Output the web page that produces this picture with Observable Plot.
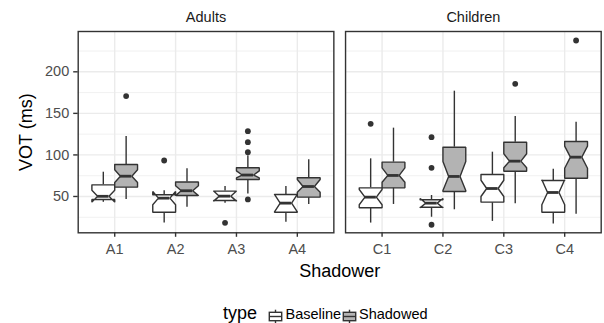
<!DOCTYPE html>
<html>
<head>
<meta charset="utf-8">
<script src="https://cdn.jsdelivr.net/npm/d3@7"></script>
<script src="https://cdn.jsdelivr.net/npm/@observablehq/plot@0.6"></script>
<style>
  html, body { margin: 0; background: #fff; font-family: "Liberation Sans", Arial, sans-serif; overflow: hidden; }
  #wrap { position: relative; width: 604px; height: 323px; overflow: hidden; }
  #legend { position: absolute; left: 0; top: 306px; width: 604px; height: 17px; }
  #legend > * { position: absolute; top: 0; }
  #legend span { line-height: 17px; white-space: nowrap; }
</style>
</head>
<body>
<div id="wrap"><div id="chart"></div><div id="legend"></div></div>
<script>
// ---- data ----
const shadowers = ["A1", "A2", "A3", "A4", "C1", "C2", "C3", "C4"];
const groups = ["Adults", "Adults", "Adults", "Adults", "Children", "Children", "Children", "Children"];
const types = ["Baseline", "Shadowed"];

const baselineLower   = [43, 18, 42, 19, 18, 25, 20, 17];
const baselineQ1      = [46.4, 31, 45.2, 31.1, 36.4, 37.1, 43.2, 31.1];
const baselineMedian  = [50.2, 48, 50.4, 42, 49.2, 42, 59.6, 54.8];
const baselineQ3      = [64, 52, 56.5, 52.4, 60.4, 46, 76.5, 69.2];
const baselineUpper   = [79.2, 57, 62, 62, 95.3, 51.2, 103.3, 82.8];
const baselineNotchLo = [43.2, 40, 44.4, 31.6, 40, 36.5, 50, 40];
const baselineNotchHi = [57.4, 56, 56.6, 52.4, 58.4, 47.5, 69.5, 70.2];

const shadowedLower   = [46.4, 37, 53, 40.4, 40.4, 34, 41.2, 28.7];
const shadowedQ1      = [61.2, 51.2, 70.5, 49.2, 60.4, 56, 80.4, 72];
const shadowedMedian  = [74.4, 56.9, 75.8, 62, 75.3, 74.1, 92.5, 97.3];
const shadowedQ3      = [88.5, 67.4, 84.5, 72.5, 91.3, 109.3, 115.3, 116.2];
const shadowedUpper   = [122.2, 83.3, 99, 94.1, 132.2, 176.7, 146.2, 139.4];
const shadowedNotchLo = [66.8, 51, 72.3, 55.2, 67.2, 57.2, 84.5, 84];
const shadowedNotchHi = [82.1, 62.8, 80.8, 70.5, 84.5, 92, 101.4, 110.5];

const outlierShadower = ["A1", "A2", "A3", "A3", "A3", "A3", "A3", "C1", "C2", "C2", "C2", "C3", "C4"];
const outlierType     = ["Shadowed", "Baseline", "Baseline", "Shadowed", "Shadowed", "Shadowed", "Shadowed", "Baseline", "Baseline", "Baseline", "Baseline", "Shadowed", "Shadowed"];
const outlierValue    = [170.8, 93.3, 18.3, 128.6, 115.3, 103.3, 46.4, 137.4, 121.4, 84.5, 16, 185.6, 237.7];

const yMajorTicks = [50, 100, 150, 200];
const yMinorTicks = [25, 75, 125, 175, 225];
const xTicks = [1, 2, 3, 4];

// ---- styles ----
const fills = {Baseline: "#ffffff", Shadowed: "#b3b3b3"};
const ink = "#333333";
const boxW = 0.375;
const offsets = {Baseline: -boxW / 2, Shadowed: boxW / 2};
const smallFont = 14.5;

// ---- derived tables ----
function makeBoxes(type, lo, q1, med, q3, hi, nlo, nhi) {
  return shadowers.map((s, i) => ({
    shadower: s, group: groups[i], type,
    pos: (i % 4) + 1 + offsets[type],
    lo: lo[i], q1: q1[i], med: med[i], q3: q3[i], hi: hi[i], nlo: nlo[i], nhi: nhi[i]
  }));
}
const boxes = [
  ...makeBoxes("Baseline", baselineLower, baselineQ1, baselineMedian, baselineQ3, baselineUpper, baselineNotchLo, baselineNotchHi),
  ...makeBoxes("Shadowed", shadowedLower, shadowedQ1, shadowedMedian, shadowedQ3, shadowedUpper, shadowedNotchLo, shadowedNotchHi)
];
function outline(b) {
  const xmin = b.pos - boxW / 2, xmax = b.pos + boxW / 2, ind = boxW / 4;
  return [
    [xmin, b.q3], [xmin, b.nhi], [xmin + ind, b.med], [xmin, b.nlo], [xmin, b.q1],
    [xmax, b.q1], [xmax, b.nlo], [xmax - ind, b.med], [xmax, b.nhi], [xmax, b.q3], [xmin, b.q3]
  ].map(([x, y]) => ({x, y, id: b.shadower + b.type, group: b.group, type: b.type}));
}
const outlinePts = boxes.flatMap(outline);
const medians = boxes.map(b => ({...b, x1: b.pos - boxW / 4, x2: b.pos + boxW / 4}));
const outliers = outlierValue.map((v, i) => {
  const k = shadowers.indexOf(outlierShadower[i]);
  return {value: v, group: groups[k], pos: (k % 4) + 1 + offsets[outlierType[i]]};
});
const cats = shadowers.map((s, i) => ({shadower: s, group: groups[i], pos: (i % 4) + 1}));
const titleRow = [{group: "Adults"}];

const chart = Plot.plot({
  width: 604,
  height: 298,
  marginLeft: 77.7,
  marginRight: 3.3,
  marginTop: 31,
  marginBottom: 65.7,
  style: {fontFamily: "'Liberation Sans', Arial, sans-serif", background: "#ffffff"},
  x: {domain: [0.4, 4.6]},
  y: {domain: [6.3, 248.5]},
  fx: {domain: ["Adults", "Children"], paddingInner: 0.0438, paddingOuter: 0, round: false},
  marks: [
    Plot.ruleY(yMinorTicks, {stroke: "#ebebeb", strokeWidth: 0.7}),
    Plot.ruleY(yMajorTicks, {stroke: "#ebebeb", strokeWidth: 1.4}),
    Plot.ruleX(xTicks, {stroke: "#ebebeb", strokeWidth: 1.4}),
    Plot.ruleX(boxes, {fx: "group", x: "pos", y1: "q3", y2: "hi", stroke: ink, strokeWidth: 1.4}),
    Plot.ruleX(boxes, {fx: "group", x: "pos", y1: "q1", y2: "lo", stroke: ink, strokeWidth: 1.4}),
    ...types.map(t => Plot.line(outlinePts.filter(d => d.type === t), {
      fx: "group", x: "x", y: "y", z: "id", fill: fills[t], stroke: ink,
      strokeWidth: 1.4, strokeLinejoin: "miter", curve: "linear"
    })),
    Plot.ruleY(medians, {fx: "group", y: "med", x1: "x1", x2: "x2", stroke: ink, strokeWidth: 2.8}),
    Plot.dot(outliers, {fx: "group", x: "pos", y: "value", r: 2.9, fill: ink, stroke: null}),
    Plot.frame({stroke: ink, strokeWidth: 1.4}),
    Plot.axisY({ticks: yMajorTicks, tickSize: 4.5, tickPadding: 4.5, label: null, fontSize: smallFont, fill: "#4d4d4d", stroke: ink, strokeWidth: 1.4}),
    Plot.axisX({ticks: xTicks, tickSize: 4.5, tickFormat: () => "", label: null, stroke: ink, strokeWidth: 1.4}),
    Plot.text(cats, {fx: "group", x: "pos", text: "shadower", frameAnchor: "bottom", lineAnchor: "top", dy: 11, fontSize: smallFont, fill: "#4d4d4d"}),
    Plot.axisFx({anchor: "top", tickSize: 0, tickPadding: 10, label: null, fontSize: smallFont, fill: "#1a1a1a"}),
    Plot.text(titleRow, {fx: "group", text: () => "VOT (ms)", frameAnchor: "left", textAnchor: "middle", lineAnchor: "middle", rotate: -90, dx: -52, fontSize: 18, fill: "#000"}),
    Plot.text(titleRow, {fx: "group", text: () => "Shadower", frameAnchor: "bottom-right", textAnchor: "middle", lineAnchor: "middle", dx: 5.85, dy: 38.9, fontSize: 18, fill: "#000"})
  ]
});
document.getElementById("chart").appendChild(chart);

// ---- legend ----
function keySvg(fill) {
  return `<svg width="17" height="17" viewBox="0 0 17 17" style="display:block">
    <line x1="8.5" x2="8.5" y1="1.7" y2="4.3" stroke="${ink}" stroke-width="1.4"/>
    <line x1="8.5" x2="8.5" y1="12.7" y2="15.3" stroke="${ink}" stroke-width="1.4"/>
    <rect x="2.3" y="4.3" width="12.4" height="8.4" fill="${fill}" stroke="${ink}" stroke-width="1.4"/>
    <line x1="2.3" x2="14.7" y1="8.5" y2="8.5" stroke="${ink}" stroke-width="1.4"/>
  </svg>`;
}
const legend = document.getElementById("legend");
legend.innerHTML =
  `<span style="left:223px;top:-1.5px;font-size:18px;color:#000">type</span>` +
  `<div style="left:266.5px;top:1.5px">${keySvg(fills.Baseline)}</div>` +
  `<span style="left:285.5px;font-size:${smallFont}px;color:#000">${types[0]}</span>` +
  `<div style="left:340.5px;top:1.5px">${keySvg(fills.Shadowed)}</div>` +
  `<span style="left:359px;font-size:${smallFont}px;color:#000">${types[1]}</span>`;
</script>
</body>
</html>
